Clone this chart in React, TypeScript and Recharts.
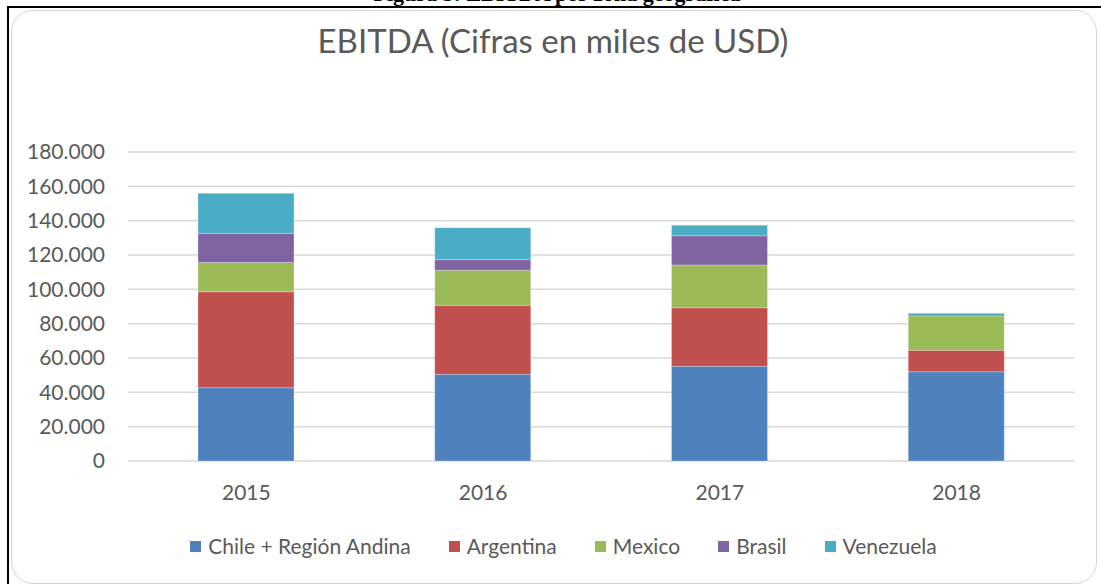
import React from 'react';
import { BarChart, Bar, XAxis, YAxis, CartesianGrid } from 'recharts';

const years = ['2015', '2016', '2017', '2018'];
const chileAndina = [42700, 50500, 55200, 52000];
const argentina = [55900, 40200, 34100, 12500];
const mexico = [17100, 20400, 24900, 20000];
const brasil = [16900, 6200, 17000, 0];
const venezuela = [23300, 18600, 6100, 1500];
const yTicks = [0, 20000, 40000, 60000, 80000, 100000, 120000, 140000, 160000, 180000];

const series = [
  { key: 'chile', name: 'Chile + Región Andina', values: chileAndina, color: '#4F81BD' },
  { key: 'argentina', name: 'Argentina', values: argentina, color: '#C0504D' },
  { key: 'mexico', name: 'Mexico', values: mexico, color: '#9BBB59' },
  { key: 'brasil', name: 'Brasil', values: brasil, color: '#8064A2' },
  { key: 'venezuela', name: 'Venezuela', values: venezuela, color: '#4BACC6' },
];

const chartData = years.map((year, i) => {
  const row: Record<string, string | number> = { year };
  series.forEach(s => {
    row[s.key] = s.values[i];
  });
  return row;
});

// 180000 -> "180.000"
const formatMiles = (v: number) =>
  String(v).replace(/\B(?=(\d{3})+(?!\d))/g, '.');

const FONT = 'Lato, "Open Sans", sans-serif';
const GREY = '#595959';

export default function App() {
  return (
    <div
      style={{
        position: 'absolute',
        left: 0,
        top: 0,
        width: 1101,
        height: 584,
        overflow: 'hidden',
        background: '#fff',
      }}
    >
      {/* caption of the document, cut off at the top like in the scan */}
      <div
        style={{
          position: 'absolute',
          left: 0,
          width: 1114,
          top: -17,
          textAlign: 'center',
          fontFamily: '"Liberation Serif", serif',
          fontWeight: 'bold',
          fontSize: 22,
          lineHeight: '22px',
          color: '#000',
        }}
      >
        Figura 5: EBITDA por zona geográfica
      </div>
      <div style={{ position: 'absolute', left: 8, top: 6, width: 1093, height: 2, background: '#000' }} />
      <div style={{ position: 'absolute', left: 7, top: 6, width: 2, height: 578, background: '#000' }} />
      {/* chart area frame */}
      <div
        style={{
          position: 'absolute',
          left: 11,
          top: 10,
          width: 1086,
          height: 574,
          border: '1.5px solid #d4d4d4',
          borderRadius: 22,
          boxSizing: 'border-box',
        }}
      />

      <div
        style={{
          position: 'absolute',
          left: 0,
          top: 24,
          width: 1101,
          textAlign: 'center',
          paddingLeft: 5,
          boxSizing: 'border-box',
          fontFamily: FONT,
          fontSize: 33,
          lineHeight: '33px',
          color: GREY,
        }}
      >
        EBITDA (Cifras en miles de USD)
      </div>

      <div style={{ position: 'absolute', left: 0, top: 0 }}>
        <BarChart
          width={1075}
          height={584}
          data={chartData}
          margin={{ top: 152, right: 0, bottom: 0, left: 0 }}
        >
          <CartesianGrid vertical={false} stroke="#d9d9d9" strokeWidth={1.5} />
          <XAxis
            dataKey="year"
            axisLine={false}
            tickLine={false}
            tickSize={0}
            tickMargin={24}
            height={123}
            tick={{ fill: GREY, fontSize: 21, fontFamily: FONT }}
          />
          <YAxis
            width={128}
            domain={[0, 180000]}
            ticks={yTicks}
            interval={0}
            axisLine={false}
            tickLine={false}
            tickSize={0}
            tickMargin={23}
            tickFormatter={formatMiles}
            tick={{ fill: GREY, fontSize: 21, fontFamily: FONT }}
          />
          {series.map(s => (
            <Bar
              key={s.key}
              dataKey={s.key}
              name={s.name}
              stackId="ebitda"
              fill={s.color}
              barSize={96}
              stroke="#ffffff"
              strokeOpacity={0.35}
              strokeWidth={0.75}
              isAnimationActive={false}
            />
          ))}
        </BarChart>
      </div>

      {/* legend */}
      <div
        style={{
          position: 'absolute',
          left: 0,
          top: 534,
          width: 1101,
          display: 'flex',
          justifyContent: 'center',
          paddingLeft: 26,
          boxSizing: 'border-box',
          fontFamily: FONT,
          fontSize: 21,
          lineHeight: '24px',
          color: GREY,
        }}
      >
        {series.map((s, i) => (
          <div
            key={s.key}
            style={{
              display: 'flex',
              alignItems: 'center',
              marginRight: i < series.length - 1 ? 38 : 0,
            }}
          >
            <span
              style={{
                display: 'inline-block',
                width: 11,
                height: 11,
                background: s.color,
                marginRight: 7,
              }}
            />
            {s.name}
          </div>
        ))}
      </div>
    </div>
  );
}
